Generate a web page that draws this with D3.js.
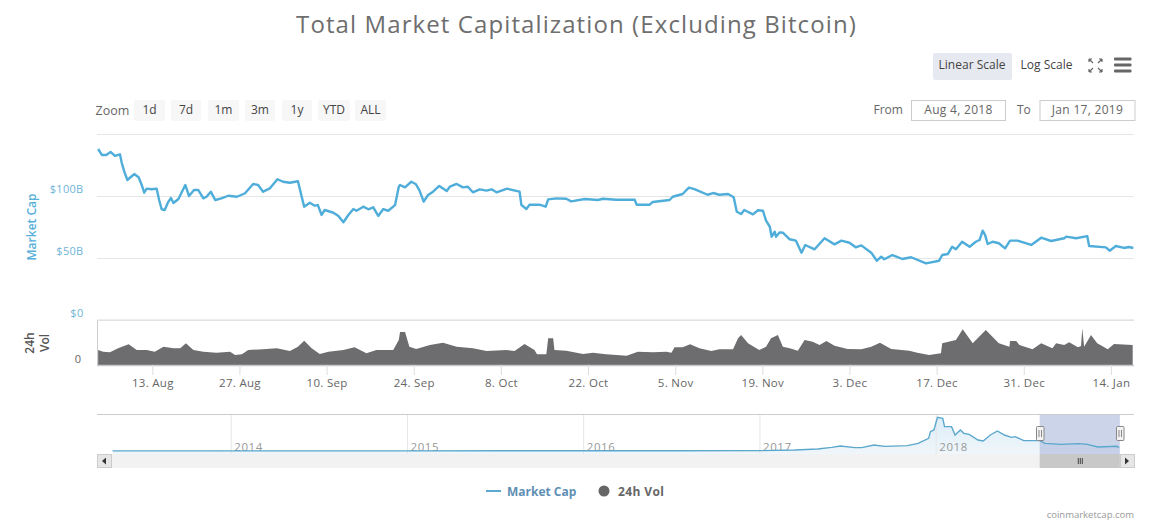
<!DOCTYPE html>
<html><head><meta charset="utf-8">
<script src="https://cdn.jsdelivr.net/npm/d3@7/dist/d3.min.js"></script>
<style>
html,body{margin:0;padding:0;background:#fff}
svg{display:block}
text{font-family:"Open Sans","DejaVu Sans",sans-serif}
</style></head><body>
<svg id="c" width="1155" height="527"></svg>
<script>
// ---- data ----
const startDate = Date.UTC(2018,7,4);
const capDays = [0.3,0.9,1.6,2.3,3.0,3.8,4.1,4.5,5.0,5.5,6.1,6.8,7.3,7.7,8.1,8.9,9.7,10.1,10.5,11.0,11.5,12.0,12.4,13.2,14.3,14.9,15.7,16.4,17.2,17.7,18.4,19.1,20.1,21.2,22.6,23.9,25.2,26.0,26.8,27.9,29.1,30.0,31.1,32.4,33.0,33.4,34.3,35.1,35.6,36.2,36.7,38.1,38.9,39.7,40.5,41.3,41.8,42.9,43.7,44.5,45.3,46.1,46.9,48.0,48.6,48.8,49.6,50.6,51.3,51.9,52.6,53.3,54.1,55.1,56.3,56.8,57.9,58.9,59.7,60.5,61.6,62.7,63.5,64.3,66.0,68.0,68.3,69.1,69.6,71.2,72.2,72.6,73.9,75.5,76.3,78.5,80.6,81.4,83.5,86.5,86.8,88.9,89.4,92.1,92.6,94.2,95.2,96.1,98.2,99.1,100.1,101.5,102.4,102.9,103.6,104.1,105.5,106.3,107.1,107.6,108.2,108.5,109,109.2,109.8,110.3,111.4,112.4,113.3,113.9,115.4,117,118.6,119.7,121,122,122.9,124.5,125.4,126.1,126.6,127.9,129.5,130.9,133.3,135.4,135.9,136.8,137.5,138.1,139.1,140.3,141.3,141.9,142.4,142.8,143.2,144,145,146,146.8,148,150.2,151.8,153.4,155.5,155.8,157.4,159.2,159.5,162.2,162.8,163.8,165.1,165.9,166.6];
const capValues = [137.9,133.1,133.1,135.5,132.3,133.6,126.6,119.6,112.9,115.1,117.7,115.1,108.9,102.7,105.9,105.4,105.9,96.8,89.3,88.7,94.6,98.4,94.4,97.6,108.9,100,104.8,104.8,98.1,99.4,103.5,96.8,98.1,100.2,99.4,102.2,109.7,108.9,103.5,106.2,113.5,111.5,110.7,111.9,99.4,91.4,94.6,92.2,92.7,84.7,88.7,86.5,83.9,78.8,84.7,89.5,88.1,91.4,89.3,90.9,83.9,89.5,88.1,92.7,107.5,108.9,107,111.5,109.7,104.8,95.4,100.8,103.5,108.1,104,107.5,109.7,107,107.5,103,105.4,104.3,105.4,103,105.9,103.5,92.7,89.5,93,93,91.4,97.3,98.1,97.8,95.7,97.6,96.8,97.8,97,97,93,93,95.2,96.8,99.4,101.6,106.7,105.6,101,102.4,101,101.6,99,87.3,85.5,88.7,85.2,88.5,88.1,80.1,75.2,67.2,71.2,67.2,70.7,70.4,65.1,64,54.3,60.5,57,65.9,61,64,62.3,58.6,60.2,54.3,47.8,51,49,52.4,49.2,50.6,45.7,47.8,52.4,53.2,59.1,57,63.1,59.1,63.1,64.5,72,68.5,61.3,63.1,61.9,57.8,64,64,60.5,66.4,63.7,65.9,67.2,65.9,67.7,59.7,58.6,55.9,59.7,58.1,58.9,58.1];
const volDays = [0.3,1.1,2.2,3.5,5.2,6.5,8.1,9.4,10.8,12.4,13.5,14.4,15.6,17.2,19.3,21.5,22.3,23.4,24.4,26.8,29,31.1,32.4,33.4,34.6,35.9,37.3,39.7,41.5,43.4,45,47.7,48.6,48.8,49.6,50.3,51.4,53.6,55.7,57.9,60.5,62.7,65.9,67.2,68.8,70.4,70.8,72.3,72.6,73.4,73.6,75.5,78.2,79.8,81.9,85.2,87,89.4,91.6,92.4,92.9,94.2,95.4,96.9,98.8,100.1,102.3,103.1,103.6,104.7,106.5,107.6,108.4,109.5,110.3,111.4,112.7,113.8,115.1,116.2,117.3,118.6,120.7,122.9,124.5,125.9,127.7,130.6,131.9,133.8,135.7,135.9,138.1,139.2,140.8,142.9,145,146.7,146.8,147.8,148.3,150.4,151.8,153.6,154.2,155.5,156.3,157.7,158.2,158.4,158.7,159.8,160.8,162.5,163.5,166.5];
const volValues = [10,8.9,8.5,11.1,13.8,10,10,8.9,12.2,11.1,11.1,14.5,10,8.9,8.2,8.9,6.7,7.1,10,10.5,11.1,9.3,12.2,16.2,11.1,7.3,8.9,10,11.8,7.8,10,10,16.7,22,22,12.2,10.7,13.3,14.9,12.2,11.1,9.3,10,9.3,14,10,7.1,7.1,17.8,17.8,10,9.5,7.3,8.2,7.1,6.2,8.9,8.5,8.9,8.2,11.8,11.8,13.8,11.1,9.3,10.5,10.5,17.8,20,14.5,10,12.2,17.8,20,12.2,11.1,9.5,16.7,15.5,13.3,16,12.9,10.7,10.5,12.2,14.9,10.7,9.5,8.2,6.7,7.8,14.5,16.7,23.8,14.5,23.3,14.5,12.2,16,16,13.3,10.5,14.5,11.1,14.5,13.3,15.1,11.8,12.7,24.5,12.2,20,14.5,10.5,14,13.3];
const navYears = [2013.33,2014,2015,2016,2016.5,2017.01,2017.2,2017.33,2017.41,2017.46,2017.54,2017.58,2017.65,2017.71,2017.84,2017.9,2017.96,2017.97,2017.99,2018.01,2018.04,2018.05,2018.09,2018.11,2018.14,2018.16,2018.19,2018.24,2018.27,2018.31,2018.35,2018.39,2018.43,2018.45,2018.5,2018.59,2018.62,2018.71,2018.81,2018.86,2018.92,2019.03,2019.04];
const navValues = [2,3,3,4,5,6,18,36,66,90,60,60,108,84,96,138,228,348,378,606,588,438,438,288,378,318,300,198,180,288,360,288,246,258,186,186,138,120,132,120,72,84,58];
const capTicks = [0,50,100,150];
const capTickLabels = ["$0","$50B","$100B",""];
const dateTickDays = [9,23,37,51,65,79,93,107,121,135,149,163];
const navTickYears = [2014,2015,2016,2017,2018];
const rangeButtons = ["1d","7d","1m","3m","1y","YTD","ALL"];
const chartTitle = "Total Market Capitalization (Excluding Bitcoin)";

// ---- helpers ----
const svg = d3.select("#c");
const toDate = d => new Date(startDate + d*864e5);
const capColor="#4fadda", labelBlue="#6fb5d8", grey="#666";
const L=97, R=1134;

const x = d3.scaleUtc().domain([toDate(9),toDate(163)]).range([152.3,1110.9]);
const y = d3.scaleLinear().domain([0,150]).range([320,134]);
const yVol = d3.scaleLinear().domain([0,30]).range([365,320]);
const xNav = d3.scaleLinear().domain([2014,2018]).range([230.7,935.7]);
const yNav = d3.scaleLinear().domain([0,606]).range([451,417.3]);

function t(px,py,s,o={}){
  const e=svg.append("text").attr("x",px).attr("y",py).text(s)
   .attr("fill",o.fill||grey).attr("font-size",o.size||12)
   .attr("text-anchor",o.anchor||"start").attr("dominant-baseline","central");
  if(o.weight)e.attr("font-weight",o.weight);
  if(o.ls)e.attr("letter-spacing",o.ls);
  if(o.rot)e.attr("transform",`rotate(${o.rot} ${px} ${py})`);
  return e;
}

// title
t(576.5,23.5,chartTitle,{size:24,anchor:"middle",fill:"#6e6e6e",ls:1.1});

// top-right controls
svg.append("rect").attr("x",933).attr("y",53).attr("width",79).attr("height",27).attr("rx",2).attr("fill","#e6e9ef");
t(972,64.5,"Linear Scale",{anchor:"middle",fill:"#444"});
t(1046.5,64.5,"Log Scale",{anchor:"middle",fill:"#444"});
const fs=svg.append("g").attr("stroke","#666").attr("stroke-width",1.2).attr("fill","none");
[[1089,59,1,1],[1102,59,-1,1],[1089,72,1,-1],[1102,72,-1,-1]].forEach(([a,b,sx,sy])=>{
  fs.append("path").attr("d",`M${a},${b}l${4*sx},${4*sy}M${a},${b}h${3*sx}M${a},${b}v${3*sy}`);
});
[59,65,71].forEach(v=>svg.append("rect").attr("x",1114).attr("y",v-1.5).attr("width",17.5).attr("height",3).attr("rx",1).attr("fill","#666"));

// zoom buttons
t(95.5,110.5,"Zoom",{size:12.5,fill:"#666"});
const btnX=[134,171,208,245,282,318,355], btnW=[31,30,31,30,30,32,31];
rangeButtons.forEach((b,i)=>{
  svg.append("rect").attr("x",btnX[i]).attr("y",100).attr("width",btnW[i]).attr("height",21).attr("rx",2).attr("fill","#f7f7f7");
  t(btnX[i]+btnW[i]/2,109.5,b,{anchor:"middle",fill:"#444"});
});
t(873.5,109.5,"From",{fill:"#666"});
t(1017,109.5,"To",{fill:"#666"});
[[911,94,"Aug 4, 2018"],[1039.5,95,"Jan 17, 2019"]].forEach(([a,w,s])=>{
  svg.append("rect").attr("x",a+.5).attr("y",100.5).attr("width",w).attr("height",20).attr("fill","#fff").attr("stroke","#ccc");
  t(a+w/2+.5,109.5,s,{anchor:"middle",fill:"#666",ls:.3});
});

// grid + y axis
const gy=svg.append("g").attr("transform",`translate(${L},0)`)
 .call(d3.axisLeft(y).tickValues(capTicks).tickSize(-(R-L)).tickFormat((d,i)=>capTickLabels[i]));
gy.select(".domain").remove();
gy.selectAll("line").attr("stroke","#e6e6e6");
gy.selectAll("text").attr("fill",labelBlue).attr("font-size",11).attr("letter-spacing",.3).attr("dx",-10.5).attr("dy",-3.5);
t(31,227,"Market Cap",{rot:-90,anchor:"middle",fill:"#55afd9",size:12,weight:600});

// volume axis
const gv=svg.append("g").attr("transform",`translate(${L},0)`)
 .call(d3.axisLeft(yVol).tickValues([0]).tickSize(0).tickFormat(d3.format("d")));
gv.select(".domain").attr("stroke","#ccc");
gv.selectAll("text").attr("fill",grey).attr("font-size",11).attr("dx",-13).attr("dy",-3);
t(29.5,343,"24h",{rot:-90,anchor:"middle",size:12,weight:600,fill:"#555"});
t(44,343,"Vol",{rot:-90,anchor:"middle",size:12,weight:600,fill:"#555"});
svg.append("line").attr("x1",L).attr("x2",R).attr("y1",320).attr("y2",320).attr("stroke","#ddd");

// volume area
const volArea=d3.area().x((d,i)=>x(toDate(volDays[i]))).y0(yVol(0)).y1(d=>yVol(d));
svg.append("path").datum(volValues).attr("d",volArea).attr("fill","#6d6d6f");

// x axis
const gx=svg.append("g").attr("transform","translate(0,365)")
 .call(d3.axisBottom(x).tickValues(dateTickDays.map(toDate)).tickSize(10).tickPadding(4).tickFormat(d3.utcFormat("%-d. %b")));
gx.select(".domain").attr("d",`M${L},0.5H${R}`).attr("stroke","#c8c8cc").attr("stroke-width",1.5);
gx.selectAll("line").attr("stroke","#ddd");
gx.selectAll("text").attr("fill",grey).attr("font-size",11.5).attr("letter-spacing",.3);

// cap line
const capLine=d3.line().x((d,i)=>x(toDate(capDays[i]))).y(d=>y(d));
svg.append("path").datum(capValues).attr("d",capLine).attr("fill","none").attr("stroke",capColor).attr("stroke-width",2.4).attr("stroke-linejoin","round");

// navigator
const navBottom=454;
svg.append("rect").attr("x",L).attr("y",454).attr("width",R-L).attr("height",14).attr("fill","#f2f2f2");
const navArea=d3.area().x((d,i)=>xNav(navYears[i])).y0(navBottom).y1(d=>yNav(d));
const grad=svg.append("defs").append("linearGradient").attr("id","ng").attr("x1",0).attr("x2",0).attr("y1",0).attr("y2",1);
grad.append("stop").attr("offset",0).attr("stop-color","#d9ebf7").attr("stop-opacity",.9);
grad.append("stop").attr("offset",1).attr("stop-color","#eef5fa").attr("stop-opacity",.9);
svg.append("path").datum(navValues).attr("d",navArea).attr("fill","url(#ng)");
const nt=svg.append("g").attr("transform",`translate(0,${navBottom})`)
 .call(d3.axisTop(xNav).tickValues(navTickYears).tickSize(40).tickFormat(d3.format("d")));
nt.select(".domain").remove();
nt.selectAll("line").attr("stroke","#e6e6e6");
nt.selectAll("text").attr("fill","#999").attr("font-size",11.5).attr("letter-spacing",.6)
  .attr("text-anchor","start").attr("transform","translate(3,0)").attr("y",-3.5);
svg.append("line").attr("x1",L).attr("x2",R).attr("y1",414.5).attr("y2",414.5).attr("stroke","#ccc");

// selected range mask
const selA=xNav(2018.59), selB=xNav(2019.045);
svg.append("rect").attr("x",selA).attr("y",415).attr("width",selB-selA).attr("height",39).attr("fill","#aab8dc").attr("fill-opacity",.6);
const navLine=d3.line().x((d,i)=>xNav(navYears[i])).y(d=>yNav(d));
svg.append("path").datum(navValues).attr("d",navLine).attr("fill","none").attr("stroke","#5ba8cc").attr("stroke-width",1.4);

// scrollbar
svg.append("rect").attr("x",selA).attr("y",454).attr("width",selB-selA).attr("height",14).attr("fill","#c8c8c8");
[-2,0,2].forEach(d=>svg.append("line").attr("x1",(selA+selB)/2+d+.5).attr("x2",(selA+selB)/2+d+.5).attr("y1",458).attr("y2",464).attr("stroke","#444"));
[[97,"M102,461l4,-3.5v7z"],[1120,"M1129,461l-4,-3.5v7z"]].forEach(([a,p])=>{
  svg.append("rect").attr("x",a+.5).attr("y",454.5).attr("width",14).attr("height",13).attr("fill","#e6e6e6").attr("stroke","#ccc");
  svg.append("path").attr("d",p).attr("fill","#333");
});
// handles
[selA,selB].forEach(h=>{
  const g=svg.append("g").attr("transform",`translate(${Math.round(h)},0)`);
  g.append("rect").attr("x",-3.5).attr("y",426.5).attr("width",7.5).attr("height",14).attr("rx",1).attr("fill","#f2f2f2").attr("stroke","#888");
  g.append("path").attr("d","M-1,430v7M1.5,430v7").attr("stroke","#888").attr("fill","none");
});

// legend
svg.append("line").attr("x1",486).attr("x2",501).attr("y1",491).attr("y2",491).attr("stroke","#5ba8d0").attr("stroke-width",2);
t(507,491,"Market Cap",{weight:700,fill:"#5f8fb4",size:12});
svg.append("circle").attr("cx",604).attr("cy",491).attr("r",5.5).attr("fill","#666");
t(618,491,"24h Vol",{weight:700,fill:"#666",size:12,ls:.4});
t(1134,514,"coinmarketcap.com",{anchor:"end",fill:"#999",size:9.5});
</script>
</body></html>
